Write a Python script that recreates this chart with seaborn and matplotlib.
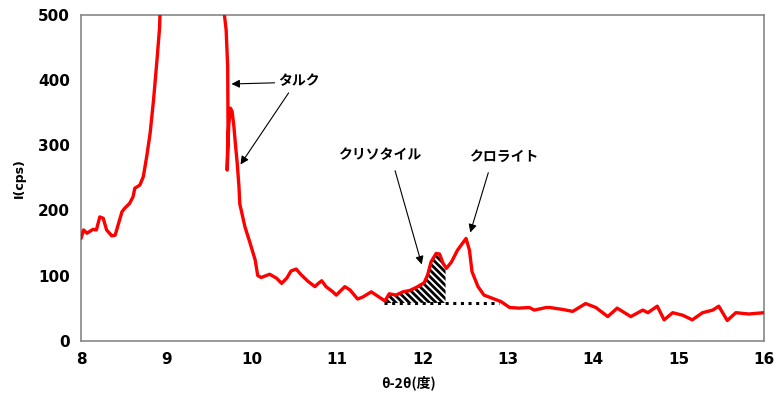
import matplotlib
matplotlib.use("Agg")
import matplotlib.pyplot as plt
import seaborn as sns
import pandas as pd
import numpy as np

# 2theta (deg) and intensity (cps)
two_theta = [8.00, 8.03, 8.07, 8.14, 8.18, 8.22, 8.26, 8.30, 8.36, 8.40, 8.44, 8.48, 8.51,
             8.57, 8.61, 8.63, 8.69, 8.73, 8.77, 8.81, 8.85, 8.89, 8.92, 8.93, 9.30, 9.66,
             9.68, 9.70, 9.718, 9.722, 9.712, 9.73, 9.75, 9.77, 9.79, 9.81, 9.83, 9.85,
             9.86, 9.92, 9.98, 10.04, 10.07, 10.11, 10.21, 10.29, 10.35, 10.41, 10.46,
             10.52, 10.58, 10.66, 10.74, 10.78, 10.82, 10.87, 10.95, 10.99, 11.09, 11.15,
             11.24, 11.30, 11.40, 11.48, 11.56, 11.61, 11.69, 11.77, 11.85, 11.93, 12.02,
             12.06, 12.10, 12.16, 12.20, 12.24, 12.28, 12.34, 12.41, 12.51, 12.55, 12.58,
             12.65, 12.72, 12.82, 12.92, 13.02, 13.13, 13.25, 13.31, 13.45, 13.49, 13.64,
             13.76, 13.91, 14.03, 14.17, 14.28, 14.44, 14.58, 14.64, 14.75, 14.83, 14.93,
             15.05, 15.16, 15.28, 15.40, 15.47, 15.57, 15.67, 15.82, 16.00]
intensity = [157, 170, 165, 171, 170, 190, 188, 170, 161, 162, 180, 198, 203,
             211, 221, 234, 239, 252, 283, 319, 370, 431, 480, 520, 1000, 520,
             500, 477, 421, 330, 262, 330, 357, 352, 330, 300, 272, 237,
             210, 175, 150, 124, 100, 97, 102, 96, 88, 96, 107,
             110, 101, 91, 83, 88, 92, 83, 75, 70, 83, 78,
             64, 67, 75, 68, 61, 72, 70, 75, 77, 82, 89,
             101, 121, 134, 133, 119, 111, 121, 139, 157, 139, 106,
             83, 70, 65, 60, 51, 50, 51, 47, 51, 51, 48,
             45, 57, 51, 37, 50, 37, 47, 43, 53, 32, 43,
             39, 32, 43, 47, 53, 31, 43, 41, 43]

baseline_level = 58
baseline_range = [11.55, 12.90]
hatch_range = [11.56, 12.27]

xticks = [8, 9, 10, 11, 12, 13, 14, 15, 16]
yticks = [0, 100, 200, 300, 400, 500]

df = pd.DataFrame({"two_theta": two_theta, "intensity": intensity})

sns.set_theme(style="white")
plt.rcParams["font.family"] = ["DejaVu Sans"]
plt.rcParams["hatch.linewidth"] = 2.0
plt.rcParams["text.color"] = "black"
plt.rcParams["xtick.labelcolor"] = "black"
plt.rcParams["ytick.labelcolor"] = "black"
plt.rcParams["axes.labelcolor"] = "black"

fig = plt.figure(figsize=(7.76, 3.94), dpi=100)
ax = fig.add_axes([81 / 776, 1 - 340.7 / 394, (764 - 81) / 776, (340.7 - 15) / 394])

sns.lineplot(data=df, x="two_theta", y="intensity", sort=False, estimator=None,
             color="#ff0000", linewidth=2.4, ax=ax, zorder=3)

# hatched chrysotile area
sub = df[(df.two_theta >= hatch_range[0]) & (df.two_theta <= 12.24)]
xs = list(sub.two_theta) + [hatch_range[1]]
ys = list(sub.intensity) + [115]
ax.fill_between(xs, baseline_level, ys, facecolor="none", edgecolor="black",
                hatch="\\" * 5, linewidth=0, zorder=2)
ax.plot(baseline_range, [baseline_level, baseline_level], linestyle=(0, (1, 1.5)),
        color="black", linewidth=2.2, zorder=2)

ax.set_xlim(8, 16)
ax.set_ylim(0, 500)
ax.set_xticks(xticks)
ax.set_yticks(yticks)
ax.tick_params(direction="in", length=4, color="#888888", labelsize=11, pad=8)
for lab in ax.get_xticklabels() + ax.get_yticklabels():
    lab.set_fontweight("bold")
for s in ax.spines.values():
    s.set_color("#888888")
    s.set_linewidth(1.2)

ax.set_xlabel("θ-2θ(度)", fontsize=10, fontweight="bold", style="italic",
              family=["Noto Sans CJK JP", "DejaVu Sans"])
ax.xaxis.set_label_coords(0.48, -0.105)
ax.set_ylabel("I(cps)", fontsize=9, fontweight="bold")
ax.yaxis.set_label_coords(-0.081, 0.5)

jp = ["Noto Sans CJK JP", "DejaVu Sans"]
arrow = dict(arrowstyle="-|>", color="black", lw=0.8, mutation_scale=12)
ax.text(10.55, 398, "タルク", fontsize=10, fontweight="bold", family=jp,
        ha="center", va="center", style="italic")
ax.annotate("", xy=(9.73, 394), xytext=(10.3, 396), arrowprops=arrow)
ax.annotate("", xy=(9.85, 267), xytext=(10.45, 384), arrowprops=arrow)

ax.text(11.5, 285, "クリソタイル", fontsize=10, fontweight="bold", family=jp,
        ha="center", va="center")
ax.annotate("", xy=(12.0, 113), xytext=(11.67, 265), arrowprops=arrow)

ax.text(12.95, 282, "クロライト", fontsize=10, fontweight="bold", family=jp,
        ha="center", va="center")
ax.annotate("", xy=(12.55, 162), xytext=(12.78, 262), arrowprops=arrow)

fig.savefig("out.png", dpi=100)
